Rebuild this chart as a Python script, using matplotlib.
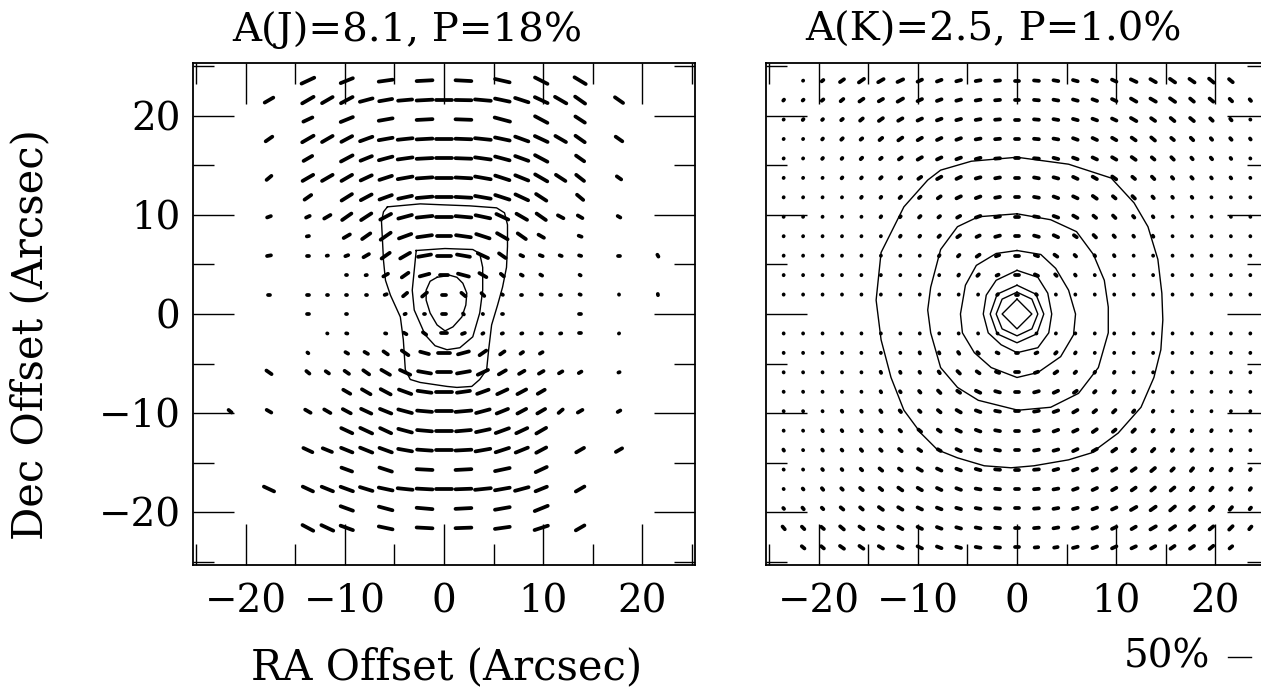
import numpy as np
import matplotlib
matplotlib.use("Agg")
import matplotlib.pyplot as plt
from matplotlib.collections import LineCollection
from matplotlib.ticker import MultipleLocator

plt.rcParams["font.family"] = ["DejaVu Serif"]

fs = 28
grid_step = 1.96            # arcsec between map pixels
arcsec_per_pct = 2.3 / 50   # vector length scale (50% bar)
px_per_arcsec = 9.92
vec_lw = 2.7

titles = ["A(J)=8.1, P=18%", "A(K)=2.5, P=1.0%"]

# ---------------- J map (left panel) ----------------
# columns k = -11..11, rows r = 12..-11 (top to bottom); 0 = no vector
j_cols = np.arange(-11, 12)
j_rows = np.arange(12, -12, -1)
j_pol = [
    [0, 0, 0, 0, 39, 0, 37, 0, 39, 0, 43, 0, 43, 0, 41, 0, 39, 0, 37, 0, 0, 0, 0],
    [0, 0, 30, 0, 37, 35, 37, 37, 37, 39, 43, 43, 43, 43, 41, 39, 39, 37, 35, 0, 30, 0, 0],
    [0, 0, 0, 0, 30, 0, 37, 0, 39, 0, 43, 0, 43, 0, 43, 0, 39, 0, 33, 0, 0, 0, 0],
    [0, 0, 26, 0, 37, 35, 35, 37, 39, 41, 43, 43, 43, 43, 41, 39, 39, 35, 33, 0, 26, 0, 0],
    [0, 0, 0, 0, 30, 0, 37, 35, 39, 41, 43, 43, 43, 43, 41, 39, 39, 0, 30, 0, 0, 0, 0],
    [0, 0, 22, 0, 35, 35, 35, 35, 37, 41, 43, 43, 43, 43, 41, 39, 39, 33, 30, 0, 20, 0, 0],
    [0, 0, 0, 0, 26, 0, 35, 35, 37, 39, 43, 43, 43, 43, 41, 39, 35, 0, 26, 0, 0, 0, 0],
    [0, 0, 17, 0, 17, 24, 33, 35, 35, 39, 43, 43, 43, 41, 37, 35, 33, 22, 20, 0, 15, 0, 0],
    [0, 0, 0, 0, 13, 0, 24, 30, 35, 37, 41, 41, 41, 39, 35, 30, 22, 0, 15, 0, 0, 0, 0],
    [0, 0, 17, 0, 11, 11, 15, 22, 30, 33, 37, 39, 37, 33, 26, 15, 15, 13, 13, 0, 11, 0, 13],
    [0, 0, 0, 0, 9, 0, 11, 11, 20, 26, 30, 26, 33, 26, 17, 13, 13, 0, 11, 0, 0, 0, 0],
    [0, 0, 11, 0, 11, 11, 11, 11, 13, 20, 22, 17, 20, 17, 11, 11, 11, 11, 11, 0, 9, 0, 11],
    [0, 0, 0, 0, 11, 0, 11, 7, 7, 11, 11, 17, 11, 9, 9, 9, 9, 0, 11, 0, 0, 0, 0],
    [0, 0, 7, 0, 9, 9, 11, 9, 11, 15, 17, 22, 15, 11, 11, 11, 11, 11, 11, 0, 9, 0, 0],
    [0, 0, 0, 0, 11, 0, 15, 17, 20, 26, 28, 33, 33, 26, 20, 15, 15, 0, 0, 0, 0, 0, 0],
    [0, 0, 22, 0, 17, 17, 20, 24, 30, 33, 37, 39, 37, 33, 26, 22, 20, 17, 15, 0, 11, 0, 0],
    [0, 0, 0, 0, 0, 0, 26, 30, 33, 37, 39, 43, 37, 35, 33, 30, 26, 0, 0, 0, 0, 0, 0],
    [17, 0, 20, 0, 22, 24, 28, 33, 35, 39, 41, 43, 43, 39, 35, 30, 28, 20, 20, 0, 15, 0, 0],
    [0, 0, 0, 0, 0, 0, 35, 37, 35, 39, 41, 43, 41, 39, 39, 35, 33, 0, 0, 0, 0, 0, 0],
    [0, 0, 0, 0, 30, 30, 35, 37, 37, 39, 41, 43, 43, 41, 39, 37, 33, 0, 28, 0, 24, 0, 0],
    [0, 0, 0, 0, 0, 0, 33, 0, 37, 0, 43, 0, 43, 0, 41, 0, 35, 0, 0, 0, 0, 0, 0],
    [0, 0, 33, 0, 33, 35, 37, 37, 39, 41, 43, 43, 43, 43, 41, 39, 35, 0, 30, 0, 0, 0, 0],
    [0, 0, 0, 0, 0, 0, 37, 0, 39, 0, 43, 0, 43, 0, 41, 0, 39, 0, 0, 0, 0, 0, 0],
    [0, 0, 0, 0, 35, 37, 37, 0, 39, 0, 43, 0, 43, 0, 41, 0, 39, 0, 30, 0, 0, 0, 0],
]
j_ang = [
    [0, 0, 0, 0, 25, 0, 22, 0, 8, 0, 3, 0, -3, 0, -13, 0, -27, 0, -31, 0, 0, 0, 0],
    [0, 0, 30, 0, 30, 30, 28, 15, 10, 5, 3, 0, -1, -5, -12, -18, -25, -30, -35, 0, -35, 0, 0],
    [0, 0, 0, 0, 25, 0, 22, 0, 10, 0, 3, 0, -2, 0, -15, 0, -28, 0, -33, 0, 0, 0, 0],
    [0, 0, 35, 0, 30, 30, 28, 20, 10, 6, 3, 0, -2, -6, -12, -20, -25, -30, -35, 0, -35, 0, 0],
    [0, 0, 0, 0, 30, 0, 28, 22, 15, 8, 3, 0, -2, -8, -15, -20, -28, 0, -35, 0, 0, 0, 0],
    [0, 0, 40, 0, 30, 30, 30, 25, 18, 10, 4, 0, -3, -10, -18, -22, -30, -33, -38, 0, -35, 0, 0],
    [0, 0, 0, 0, 35, 0, 32, 28, 20, 12, 5, 0, -3, -10, -18, -25, -33, 0, -40, 0, 0, 0, 0],
    [0, 0, 20, 0, 25, 30, 35, 33, 28, 15, 6, 0, -5, -12, -25, -30, -35, -28, -30, 0, -30, 0, 0],
    [0, 0, 0, 0, 10, 0, 30, 35, 35, 20, 8, 0, -8, -18, -30, -35, -30, 0, -20, 0, 0, 0, 0],
    [0, 0, 10, 0, 0, 10, 20, 30, 35, 30, 10, 0, -10, -25, -35, -25, -20, -20, -15, 0, 0, 0, -60],
    [0, 0, 0, 0, 0, 0, 0, 10, 30, 35, 15, 0, -15, -30, -40, -30, -30, 0, -30, 0, 0, 0, 0],
    [0, 0, 0, 0, 0, 0, 0, 0, 20, 40, 40, 0, -40, -45, -30, 0, -10, 0, -20, 0, -80, 0, -80],
    [0, 0, 0, 0, 0, 0, 0, 0, 0, 20, 0, 0, -45, -40, 0, 0, 0, 0, 0, 0, 0, 0, 0],
    [0, 0, 0, 0, 0, -20, -10, 0, -10, -30, -35, 0, 20, 30, 20, 15, 10, 10, 0, 0, 40, 0, 0],
    [0, 0, 0, 0, -40, 0, -30, -30, -35, -35, -15, 0, 15, 35, 35, 35, 30, 0, 0, 0, 0, 0, 0],
    [0, 0, -35, 0, -40, -35, -35, -35, -30, -25, -10, 0, 10, 25, 30, 30, 30, 30, 30, 0, 20, 0, 0],
    [0, 0, 0, 0, 0, 0, -30, -30, -28, -20, -8, 0, 8, 20, 25, 28, 30, 0, 0, 0, 0, 0, 0],
    [-40, 0, -30, 0, -30, -30, -28, -25, -22, -15, -5, 0, 5, 15, 22, 28, 30, 40, 30, 0, 30, 0, 0],
    [0, 0, 0, 0, 0, 0, -25, -25, -25, -15, -5, 0, 5, 12, 20, 25, 30, 0, 0, 0, 0, 0, 0],
    [0, 0, 0, 0, -25, -22, -22, -22, -20, -10, -4, 0, 3, 10, 18, 22, 28, 0, 30, 0, 30, 0, 0],
    [0, 0, 0, 0, 0, 0, -20, 0, -18, 0, -3, 0, 3, 0, 12, 0, 25, 0, 0, 0, 0, 0, 0],
    [0, 0, -25, 0, -25, -22, -20, -17, -12, -6, -3, 0, 2, 6, 10, 15, 22, 0, 30, 0, 0, 0, 0],
    [0, 0, 0, 0, 0, 0, -20, 0, -15, 0, -5, 0, 3, 0, 10, 0, 22, 0, 0, 0, 0, 0, 0],
    [0, 0, 0, 0, -28, -25, -20, 0, -12, 0, -3, 0, 2, 0, 8, 0, 18, 0, 30, 0, 0, 0, 0],
]
j_contours = [
    [(-5.7, 10.8), (-2.4, 11.1), (0.0, 11.0), (2.6, 10.9), (5.3, 10.7), (6.1, 10.2),
     (6.4, 9.0), (6.4, 6.8), (6.3, 4.7), (5.9, 2.7), (5.4, 0.9), (4.8, -1.1),
     (4.5, -3.6), (4.3, -5.6), (3.6, -6.6), (2.8, -7.3), (1.3, -7.4), (0.3, -7.3),
     (-2.4, -6.9), (-3.4, -6.6), (-3.9, -5.6), (-4.1, -2.6), (-4.4, -0.3),
     (-5.4, 1.9), (-5.9, 3.4), (-6.1, 5.4), (-6.2, 7.4), (-6.3, 9.3), (-6.1, 10.3)],
    [(-2.8, 6.4), (0.1, 6.6), (2.9, 6.5), (3.6, 6.1), (3.9, 4.7), (3.9, 2.4),
     (3.6, 0.1), (2.9, -2.3), (1.6, -3.4), (0.3, -3.6), (-0.9, -3.2), (-1.9, -2.1),
     (-3.0, 0.4), (-3.2, 2.4), (-3.0, 4.4)],
    [(-0.7, 3.7), (0.6, 3.9), (1.3, 3.7), (1.9, 3.1), (2.3, 2.1), (2.2, 0.9),
     (1.8, -0.3), (0.9, -1.3), (0.1, -1.7), (-0.7, -1.1), (-1.4, 0.1), (-1.8, 1.4),
     (-1.8, 2.4), (-1.4, 3.3)],
]

# ---------------- K map (right panel) ----------------
# columns k = -12..12, rows r = 12..-12
k_cols = np.arange(-12, 13)
k_rows = np.arange(12, -13, -1)
k_pol = [
    [0, 7, 13, 19, 22, 22, 22, 19, 19, 19, 19, 19, 19, 19, 19, 19, 19, 19, 22, 22, 22, 22, 22, 19, 0],
    [11, 11, 13, 16, 19, 19, 22, 19, 19, 19, 19, 19, 19, 19, 19, 19, 19, 19, 22, 22, 22, 19, 19, 16, 13],
    [7, 11, 11, 13, 16, 19, 19, 19, 19, 19, 19, 19, 19, 19, 19, 19, 19, 19, 22, 19, 19, 19, 16, 13, 7],
    [7, 7, 11, 13, 13, 16, 19, 19, 19, 19, 19, 19, 19, 19, 19, 19, 19, 19, 19, 19, 16, 16, 13, 13, 11],
    [7, 7, 11, 11, 13, 13, 16, 19, 19, 19, 19, 19, 19, 19, 19, 19, 19, 19, 19, 16, 16, 13, 13, 11, 7],
    [7, 7, 7, 11, 11, 13, 13, 16, 19, 19, 19, 19, 19, 19, 19, 19, 19, 19, 16, 16, 13, 13, 11, 11, 7],
    [7, 7, 7, 7, 11, 11, 13, 13, 16, 19, 19, 19, 19, 19, 19, 19, 19, 16, 16, 13, 11, 11, 7, 7, 7],
    [7, 7, 7, 7, 7, 11, 11, 13, 13, 16, 19, 19, 19, 19, 19, 19, 16, 16, 13, 11, 7, 7, 7, 7, 7],
    [7, 7, 7, 7, 7, 7, 11, 11, 13, 16, 16, 19, 19, 19, 19, 16, 16, 13, 11, 11, 7, 7, 7, 7, 7],
    [7, 7, 7, 7, 7, 7, 7, 7, 11, 13, 16, 16, 19, 16, 16, 13, 11, 11, 7, 7, 7, 7, 7, 7, 7],
    [4, 4, 4, 7, 7, 7, 7, 7, 7, 11, 13, 13, 16, 16, 13, 11, 7, 7, 4, 4, 4, 4, 4, 4, 4],
    [4, 4, 4, 4, 4, 4, 4, 4, 4, 7, 7, 11, 11, 11, 7, 4, 4, 4, 4, 4, 4, 4, 4, 4, 4],
    [4, 4, 4, 4, 4, 4, 4, 4, 4, 4, 4, 7, 4, 7, 4, 4, 4, 4, 4, 4, 4, 4, 4, 4, 4],
    [4, 4, 4, 4, 4, 4, 4, 4, 4, 4, 7, 7, 7, 7, 7, 7, 4, 4, 4, 4, 4, 4, 4, 4, 4],
    [4, 4, 7, 7, 7, 7, 7, 11, 11, 13, 13, 13, 13, 13, 13, 11, 7, 7, 7, 7, 4, 4, 4, 4, 4],
    [7, 7, 7, 7, 7, 11, 11, 11, 13, 16, 16, 16, 16, 16, 16, 13, 11, 11, 7, 7, 7, 7, 7, 7, 7],
    [7, 7, 7, 7, 7, 11, 11, 13, 16, 16, 19, 19, 16, 19, 19, 16, 13, 13, 11, 7, 7, 7, 7, 7, 7],
    [7, 7, 7, 11, 11, 13, 13, 13, 16, 19, 19, 19, 19, 19, 19, 19, 16, 16, 13, 11, 7, 7, 7, 7, 7],
    [7, 7, 11, 11, 11, 13, 13, 16, 16, 19, 19, 19, 19, 19, 19, 19, 19, 16, 16, 13, 13, 11, 11, 7, 7],
    [11, 7, 11, 11, 13, 13, 16, 16, 16, 19, 19, 19, 19, 19, 19, 19, 19, 19, 16, 16, 13, 13, 11, 11, 7],
    [7, 7, 11, 11, 13, 16, 16, 19, 19, 19, 19, 19, 19, 19, 19, 19, 19, 19, 19, 19, 16, 16, 13, 13, 11],
    [7, 11, 13, 13, 16, 16, 19, 19, 19, 19, 19, 19, 19, 19, 19, 19, 19, 19, 19, 19, 19, 16, 16, 13, 13],
    [11, 13, 13, 16, 16, 19, 19, 19, 19, 19, 19, 19, 19, 19, 19, 19, 19, 19, 22, 22, 22, 19, 19, 16, 13],
    [16, 16, 16, 19, 19, 19, 19, 19, 19, 19, 19, 19, 19, 19, 19, 19, 19, 19, 19, 22, 22, 22, 19, 19, 16],
    [0, 16, 16, 19, 19, 19, 19, 19, 19, 19, 19, 19, 19, 16, 16, 19, 19, 19, 19, 19, 19, 19, 19, 16, 0],
]
k_ang = [
    [45, 40, 40, 35, 35, 30, 25, 25, 20, 15, 10, 5, 0, -5, -10, -15, -20, -25, -25, -30, -35, -35, -40, -40, -45],
    [50, 45, 40, 40, 35, 30, 30, 25, 20, 15, 10, 5, 0, -5, -10, -15, -20, -25, -30, -30, -35, -40, -40, -45, -50],
    [50, 50, 45, 40, 40, 35, 30, 25, 20, 15, 10, 5, 0, -5, -10, -15, -20, -25, -30, -35, -40, -40, -45, -50, -50],
    [55, 50, 50, 45, 40, 40, 35, 30, 25, 20, 10, 5, 0, -5, -10, -20, -25, -30, -35, -40, -40, -45, -50, -50, -55],
    [55, 55, 50, 50, 45, 40, 35, 30, 25, 20, 15, 5, 0, -5, -15, -20, -25, -30, -35, -40, -45, -50, -50, -55, -55],
    [60, 55, 55, 50, 50, 45, 40, 35, 30, 25, 15, 10, 0, -10, -15, -25, -30, -35, -40, -45, -50, -50, -55, -55, -60],
    [65, 60, 60, 55, 55, 50, 45, 40, 35, 25, 20, 10, 0, -10, -20, -25, -35, -40, -45, -50, -55, -55, -60, -60, -65],
    [65, 65, 65, 60, 60, 55, 50, 45, 40, 30, 20, 10, 0, -10, -20, -30, -40, -45, -50, -55, -60, -60, -65, -65, -65],
    [70, 70, 70, 65, 65, 60, 55, 50, 45, 35, 25, 15, 0, -15, -25, -35, -45, -50, -55, -60, -65, -65, -70, -70, -70],
    [75, 75, 75, 70, 70, 65, 65, 60, 55, 45, 35, 20, 0, -20, -35, -45, -55, -60, -65, -65, -70, -70, -75, -75, -75],
    [80, 80, 80, 80, 75, 75, 70, 70, 65, 55, 45, 25, 0, -25, -45, -55, -65, -70, -70, -75, -75, -80, -80, -80, -80],
    [85, 85, 85, 85, 85, 80, 80, 80, 75, 70, 65, 45, 0, -45, -65, -70, -75, -80, -80, -80, -85, -85, -85, -85, -85],
    [90, 90, 90, 90, 90, 90, 90, 90, 90, 90, 90, 90, 0, 90, 90, 90, 90, 90, 90, 90, 90, 90, 90, 90, 90],
    [-85, -85, -85, -85, -85, -80, -80, -80, -75, -70, -65, -45, 0, 45, 65, 70, 75, 80, 80, 80, 85, 85, 85, 85, 85],
    [-80, -80, -80, -80, -75, -75, -70, -70, -65, -55, -45, -25, 0, 25, 45, 55, 65, 70, 70, 75, 75, 80, 80, 80, 80],
    [-75, -75, -75, -70, -70, -65, -65, -60, -55, -45, -35, -20, 0, 20, 35, 45, 55, 60, 65, 65, 70, 70, 75, 75, 75],
    [-70, -70, -70, -65, -65, -60, -55, -50, -45, -35, -25, -15, 0, 15, 25, 35, 45, 50, 55, 60, 65, 65, 70, 70, 70],
    [-65, -65, -65, -60, -60, -55, -50, -45, -40, -30, -20, -10, 0, 10, 20, 30, 40, 45, 50, 55, 60, 60, 65, 65, 65],
    [-65, -60, -60, -55, -55, -50, -45, -40, -35, -25, -20, -10, 0, 10, 20, 25, 35, 40, 45, 50, 55, 55, 60, 60, 65],
    [-60, -55, -55, -50, -50, -45, -40, -35, -30, -25, -15, -10, 0, 10, 15, 25, 30, 35, 40, 45, 50, 50, 55, 55, 60],
    [-55, -55, -50, -50, -45, -40, -35, -30, -25, -20, -15, -5, 0, 5, 15, 20, 25, 30, 35, 40, 45, 50, 50, 55, 55],
    [-55, -50, -50, -45, -40, -40, -35, -30, -25, -20, -10, -5, 0, 5, 10, 20, 25, 30, 35, 40, 40, 45, 50, 50, 55],
    [-50, -50, -45, -40, -40, -35, -30, -25, -20, -15, -10, -5, 0, 5, 10, 15, 20, 25, 30, 35, 40, 40, 45, 50, 50],
    [-50, -45, -40, -40, -35, -30, -30, -25, -20, -15, -10, -5, 0, 5, 10, 15, 20, 25, 30, 30, 35, 40, 40, 45, 50],
    [-45, -40, -40, -35, -35, -30, -25, -25, -20, -15, -10, -5, 0, 5, 10, 15, 20, 25, 25, 30, 35, 35, 40, 40, 45],
]
k_contours = [
    [(0.0, 15.8), (5.2, 15.1), (9.5, 13.7), (11.8, 11.2), (13.2, 8.8), (14.2, 5.5),
     (14.6, 2.1), (14.7, -0.6), (14.5, -3.6), (13.8, -6.4), (12.5, -9.4), (10.2, -12.0),
     (7.5, -14.0), (5.2, -14.7), (1.7, -15.3), (-0.6, -15.5), (-3.3, -15.3), (-6.0, -14.5),
     (-8.0, -13.7), (-9.7, -12.0), (-11.4, -9.7), (-12.7, -6.4), (-13.7, -2.6), (-14.2, 1.4),
     (-13.7, 6.2), (-12.7, 8.2), (-11.4, 10.8), (-9.0, 13.5), (-7.7, 14.5), (-4.6, 15.4)],
    [(0.0, 10.1), (3.4, 9.5), (6.0, 8.3), (7.7, 6.0), (8.8, 3.4), (9.2, 0.7), (9.2, -1.9),
     (8.2, -5.4), (6.2, -8.0), (3.4, -9.4), (0.1, -9.7), (-3.9, -8.7), (-6.0, -7.4),
     (-7.7, -5.4), (-8.7, -1.9), (-9.0, 0.4), (-8.7, 2.7), (-7.7, 6.5), (-6.0, 8.8), (-3.9, 9.8)],
    [(0.0, 6.4), (2.4, 6.0), (3.9, 4.6), (5.2, 2.4), (5.9, 0.0), (5.7, -2.1), (4.4, -4.3),
     (2.1, -5.9), (0.0, -6.4), (-2.6, -5.4), (-4.3, -3.9), (-5.5, -1.9), (-5.7, 0.0),
     (-5.2, 2.9), (-4.1, 4.9), (-2.1, 6.1)],
    [(0.0, 4.4), (2.1, 3.7), (3.1, 2.1), (3.5, 0.0), (3.2, -1.9), (2.1, -3.4), (0.0, -3.9),
     (-1.6, -3.1), (-2.9, -1.9), (-3.4, 0.0), (-3.1, 1.9), (-2.1, 3.4)],
    [(0.0, 2.9), (1.9, 2.0), (2.7, 0.0), (2.0, -2.0), (0.0, -2.9), (-2.0, -2.0), (-2.7, 0.0), (-2.0, 2.0)],
    [(0.0, 2.2), (1.5, 1.5), (2.1, 0.0), (1.5, -1.5), (0.0, -2.2), (-1.5, -1.5), (-2.1, 0.0), (-1.5, 1.5)],
    [(0.0, 1.5), (1.5, 0.0), (0.0, -1.5), (-1.5, 0.0)],
]

scale_pct = 50


def draw_vectors(ax, cols, rows, pol, ang):
    cap = vec_lw / 72 * 100 / px_per_arcsec
    segs = []
    for i, r in enumerate(rows):
        for j, k in enumerate(cols):
            p = pol[i][j]
            if p <= 0:
                continue
            L = max(p * arcsec_per_pct - cap, 0.03)
            th = np.radians(ang[i][j])
            x, y = k * grid_step, r * grid_step
            dx, dy = 0.5 * L * np.cos(th), 0.5 * L * np.sin(th)
            segs.append([(x - dx, y - dy), (x + dx, y + dy)])
    ax.add_collection(LineCollection(segs, colors="k", linewidths=vec_lw,
                                     capstyle="round"))


def style_axes(ax, show_y):
    lim = 25.3
    ax.set_xlim(-lim, lim)
    ax.set_ylim(-lim, lim)
    for a in (ax.xaxis, ax.yaxis):
        a.set_major_locator(MultipleLocator(10))
        a.set_minor_locator(MultipleLocator(5))
    ax.tick_params(which="both", direction="in", top=True, right=True,
                   width=1.0, labelsize=fs)
    ax.tick_params(which="major", length=29.5)
    ax.tick_params(which="minor", length=15)
    ax.tick_params(axis="x", pad=13)
    ax.tick_params(axis="y", pad=9, labelleft=show_y)
    for s in ax.spines.values():
        s.set_linewidth(1.3)


W, H = 1261, 692
fig = plt.figure(figsize=(W / 100, H / 100), dpi=100)
ax1 = fig.add_axes([193 / W, (H - 565) / H, 502 / W, 502 / H])
ax2 = fig.add_axes([766 / W, (H - 565) / H, 502 / W, 502 / H])

draw_vectors(ax1, j_cols, j_rows, j_pol, j_ang)
for c in j_contours:
    xs = [p[0] for p in c] + [c[0][0]]
    ys = [p[1] for p in c] + [c[0][1]]
    ax1.plot(xs, ys, color="k", lw=1.0)

draw_vectors(ax2, k_cols, k_rows, k_pol, k_ang)
for c in k_contours:
    xs = [p[0] for p in c] + [c[0][0]]
    ys = [p[1] for p in c] + [c[0][1]]
    ax2.plot(xs, ys, color="k", lw=1.0)

style_axes(ax1, True)
style_axes(ax2, False)

# titles sit left of the panel centres in the original
for ax, t in zip((ax1, ax2), titles):
    ax.text(0.078, 1.066, t, transform=ax.transAxes, ha="left", va="center",
            fontsize=29)

fig.text(30 / W, 1 - 335 / H, "Dec Offset (Arcsec)", rotation=90,
         ha="center", va="center", fontsize=30)
fig.text(447 / W, 1 - 667 / H, "RA Offset (Arcsec)", ha="center",
         va="center", fontsize=30)

# polarization scale bar
bar_y = -34.6
bar_x0 = 21.3
ax2.plot([bar_x0, bar_x0 + scale_pct * arcsec_per_pct], [bar_y, bar_y],
         color="k", lw=1.0, clip_on=False)
ax2.text(bar_x0 - 1.8, bar_y, f"{scale_pct}%", ha="right", va="center",
         fontsize=fs, clip_on=False)

fig.savefig("out.png", dpi=100)
